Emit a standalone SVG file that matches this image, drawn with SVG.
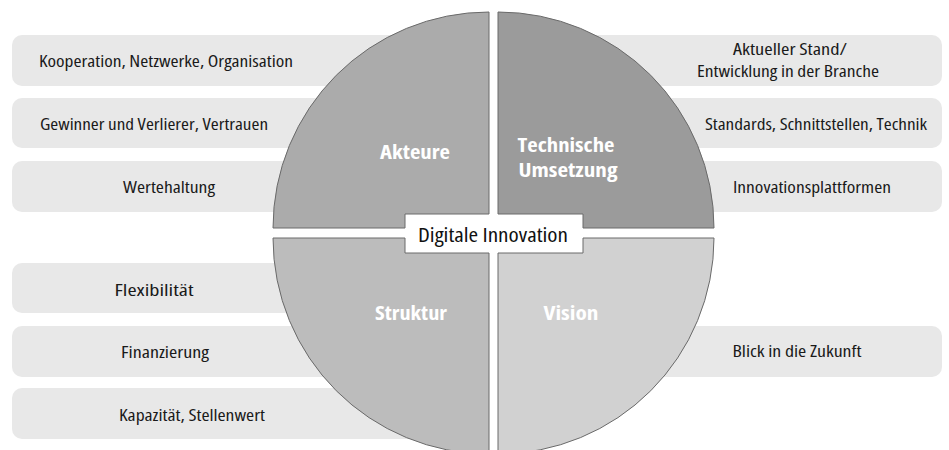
<svg xmlns="http://www.w3.org/2000/svg" width="949" height="450" viewBox="0 0 949 450">
  <style>
    .bar { fill: #e8e8e8; }
    .quad { stroke: #6a6a6a; stroke-width: 1; }
    .item { font-family: "Open Sans", "DejaVu Sans Condensed", "Liberation Sans", sans-serif; font-stretch: 75%; font-size: 16px; fill: #1a1a1a; text-anchor: middle; }
    .head { font-family: "Open Sans", "DejaVu Sans Condensed", "Liberation Sans", sans-serif; font-stretch: 75%; font-size: 19px; font-weight: bold; fill: #ffffff; text-anchor: middle; }
    .core { font-family: "Open Sans", "DejaVu Sans Condensed", "Liberation Sans", sans-serif; font-stretch: 75%; font-size: 19px; fill: #111111; text-anchor: middle; }
  </style>
  <rect width="949" height="450" fill="#ffffff"/>

  <!-- left-hand topic bars -->
  <g id="bar-kooperation"><rect class="bar" x="12" y="35" width="410" height="51" rx="10"/><text class="item" x="166" y="67" textLength="254" lengthAdjust="spacingAndGlyphs">Kooperation, Netzwerke, Organisation</text></g>
  <g id="bar-gewinner"><rect class="bar" x="12" y="98" width="410" height="50" rx="10"/><text class="item" x="154" y="130" textLength="228" lengthAdjust="spacingAndGlyphs">Gewinner und Verlierer, Vertrauen</text></g>
  <g id="bar-wertehaltung"><rect class="bar" x="12" y="161" width="410" height="51" rx="10"/><text class="item" x="169" y="193" textLength="92" lengthAdjust="spacingAndGlyphs">Wertehaltung</text></g>
  <g id="bar-flexibilitaet"><rect class="bar" x="12" y="263" width="410" height="50" rx="10"/><text class="item" x="154" y="296" textLength="79" lengthAdjust="spacingAndGlyphs">Flexibilität</text></g>
  <g id="bar-finanzierung"><rect class="bar" x="12" y="326" width="410" height="51" rx="10"/><text class="item" x="165" y="358" textLength="88" lengthAdjust="spacingAndGlyphs">Finanzierung</text></g>
  <g id="bar-kapazitaet"><rect class="bar" x="12" y="388" width="410" height="51" rx="10"/><text class="item" x="192" y="421" textLength="146" lengthAdjust="spacingAndGlyphs">Kapazität, Stellenwert</text></g>

  <!-- right-hand topic bars -->
  <g id="bar-stand"><rect class="bar" x="560" y="35" width="382" height="51" rx="10"/><text class="item" x="790" y="55" textLength="114" lengthAdjust="spacingAndGlyphs">Aktueller Stand/</text><text class="item" x="788" y="77" textLength="182" lengthAdjust="spacingAndGlyphs">Entwicklung in der Branche</text></g>
  <g id="bar-standards"><rect class="bar" x="560" y="98" width="382" height="50" rx="10"/><text class="item" x="816" y="130" textLength="222" lengthAdjust="spacingAndGlyphs">Standards, Schnittstellen, Technik</text></g>
  <g id="bar-plattformen"><rect class="bar" x="560" y="161" width="382" height="51" rx="10"/><text class="item" x="812" y="193" textLength="158" lengthAdjust="spacingAndGlyphs">Innovationsplattformen</text></g>
  <g id="bar-zukunft"><rect class="bar" x="560" y="326" width="382" height="51" rx="10"/><text class="item" x="797" y="357" textLength="129" lengthAdjust="spacingAndGlyphs">Blick in die Zukunft</text></g>

  <!-- four quarter segments of the central circle, notched around the core label -->
  <g id="akteure">
    <path class="quad" fill="#ababab" d="M273,228 A216,216 0 0 1 489,12 L489,214 L405,214 L405,228 Z"/>
    <text class="head" x="415" y="159" textLength="70" lengthAdjust="spacingAndGlyphs">Akteure</text>
  </g>
  <g id="technische-umsetzung">
    <path class="quad" fill="#9b9b9b" d="M498,12 A216,216 0 0 1 714,228 L583,228 L583,214 L498,214 Z"/>
    <text class="head" x="566" y="152" textLength="97" lengthAdjust="spacingAndGlyphs">Technische</text>
    <text class="head" x="568" y="177" textLength="99" lengthAdjust="spacingAndGlyphs">Umsetzung</text>
  </g>
  <g id="struktur">
    <path class="quad" fill="#bcbcbc" d="M405,238 L273,238 A216,216 0 0 0 489,454 L489,253 L405,253 Z"/>
    <text class="head" x="411" y="320" textLength="72" lengthAdjust="spacingAndGlyphs">Struktur</text>
  </g>
  <g id="vision">
    <path class="quad" fill="#d1d1d1" d="M498,253 L498,454 A216,216 0 0 0 714,238 L583,238 L583,253 Z"/>
    <text class="head" x="571" y="320" textLength="55" lengthAdjust="spacingAndGlyphs">Vision</text>
  </g>

  <!-- core label -->
  <g id="digitale-innovation">
    <text class="core" x="493" y="242" textLength="150" lengthAdjust="spacingAndGlyphs">Digitale Innovation</text>
  </g>

  <g id="connectors"></g>
</svg>
